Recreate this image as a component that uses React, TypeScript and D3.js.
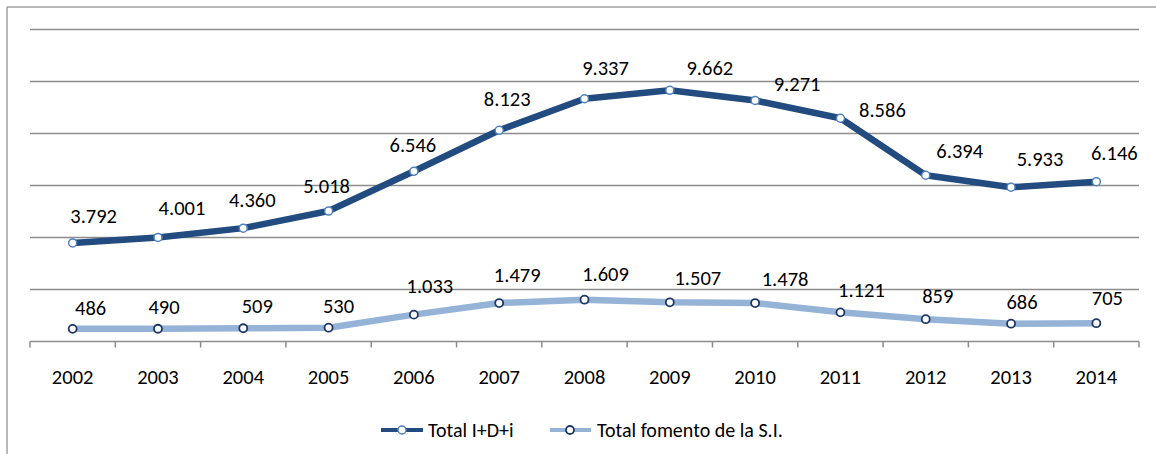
import React from "react";
import * as d3 from "d3";

const years = ["2002","2003","2004","2005","2006","2007","2008","2009","2010","2011","2012","2013","2014"];
const totalIDi = [3792,4001,4360,5018,6546,8123,9337,9662,9271,8586,6394,5933,6146];
const totalFomento = [486,490,509,530,1033,1479,1609,1507,1478,1121,859,686,705];
const yTicks = [0,2000,4000,6000,8000,10000,12000];

// label offsets (dx, dy) relative to each point, as positioned in the original chart
const darkLabelOffsets: [number, number][] = [
  [21,-20],[24,-22],[9,-21],[-2,-18],[-1,-19],[8,-24],[21,-24],[40,-15],[42,-9],[42,-1],[34,-17],[29,-21],[18,-22],
];
const lightLabelOffsets: [number, number][] = [
  [18,-14],[6,-15],[14,-15],[10,-15],[16,-22],[18,-21],[21,-19],[28,-17],[30,-17],[21,-15],[12,-16],[11,-15],[11,-18],
];

const W = 1156, H = 454;
const FONT = "Carlito, 'Open Sans', sans-serif";
const DARK = "#224B7F";
const LIGHT = "#95B3D7";
const DARK_MARK = "#4F81BD";
const LIGHT_MARK = "#1F3864";
const LABEL_SIZE = 20.5;

const fmt = (v: number) => {
  const s = String(v);
  return s.length > 3 ? s.slice(0, s.length - 3) + "." + s.slice(-3) : s;
};

export default function App() {
  const left = 30, right = 1139, top = 29.5, bottom = 341.5;
  const x = d3.scaleBand<string>().domain(years).range([left, right]).padding(0);
  const cx = (i: number) => (x(years[i]) as number) + x.bandwidth() / 2;
  const y = d3.scaleLinear().domain([0, 12000]).range([bottom, top]);
  const line = d3.line<number>().x((_, i) => cx(i)).y(d => y(d)).curve(d3.curveLinear);

  const tickXs = [...years.map(yr => x(yr) as number), right];

  return (
    <svg width={W} height={H} style={{ position: "absolute", left: 0, top: 0, background: "#fff" }}
      fontFamily={FONT}>
      <rect x={0} y={0} width={W} height={H} fill="#fff" />
      {/* outer frame */}
      <line x1={7} y1={7} x2={W} y2={7} stroke="#a0a0a0" strokeWidth={1.5} />
      <line x1={7} y1={7} x2={7} y2={H} stroke="#a0a0a0" strokeWidth={1.5} />
      {/* gridlines */}
      {yTicks.slice(1).map(t => (
        <line key={t} x1={left} x2={right} y1={y(t)} y2={y(t)} stroke="#8c8c8c" strokeWidth={1.5} />
      ))}
      {/* x axis */}
      <line x1={left} x2={right} y1={bottom} y2={bottom} stroke="#8c8c8c" strokeWidth={1.5} />
      {tickXs.map((tx, i) => (
        <line key={i} x1={tx} x2={tx} y1={bottom} y2={bottom + 6} stroke="#8c8c8c" strokeWidth={1.5} />
      ))}
      {years.map((yr, i) => (
        <text key={yr} x={cx(i)} y={384} textAnchor="middle" fontSize={LABEL_SIZE} fill="#000">{yr}</text>
      ))}
      {/* series lines */}
      <path d={line(totalIDi) || ""} fill="none" stroke={DARK} strokeWidth={6.5} strokeLinejoin="round" strokeLinecap="round" />
      <path d={line(totalFomento) || ""} fill="none" stroke={LIGHT} strokeWidth={6.5} strokeLinejoin="round" strokeLinecap="round" />
      {totalIDi.map((v, i) => (
        <circle key={"d" + i} cx={cx(i)} cy={y(v)} r={4} fill="#fff" stroke={DARK_MARK} strokeWidth={1.5} />
      ))}
      {totalFomento.map((v, i) => (
        <circle key={"l" + i} cx={cx(i)} cy={y(v)} r={4} fill="#fff" stroke={LIGHT_MARK} strokeWidth={1.8} />
      ))}
      {/* data labels */}
      {totalIDi.map((v, i) => (
        <text key={"dl" + i} x={cx(i) + darkLabelOffsets[i][0]} y={y(v) + darkLabelOffsets[i][1]}
          textAnchor="middle" fontSize={LABEL_SIZE} fill="#000">{fmt(v)}</text>
      ))}
      {totalFomento.map((v, i) => (
        <text key={"ll" + i} x={cx(i) + lightLabelOffsets[i][0]} y={y(v) + lightLabelOffsets[i][1]}
          textAnchor="middle" fontSize={LABEL_SIZE} fill="#000">{fmt(v)}</text>
      ))}
      {/* legend */}
      <g>
        <line x1={381} x2={423} y1={430} y2={430} stroke={DARK} strokeWidth={4} />
        <circle cx={402} cy={430} r={4} fill="#fff" stroke={DARK_MARK} strokeWidth={1.5} />
        <text x={428} y={437} fontSize={20} fill="#000">Total I+D+i</text>
        <line x1={550} x2={591} y1={430} y2={430} stroke={LIGHT} strokeWidth={4} />
        <circle cx={570} cy={430} r={4} fill="#fff" stroke={LIGHT_MARK} strokeWidth={1.8} />
        <text x={597} y={437} fontSize={20} fill="#000">Total fomento de la S.I.</text>
      </g>
    </svg>
  );
}
